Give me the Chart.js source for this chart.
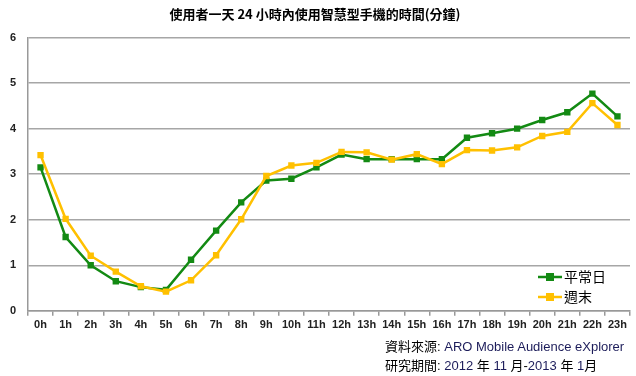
<!DOCTYPE html>
<html>
<head>
<meta charset="utf-8">
<script src="https://cdn.jsdelivr.net/npm/chart.js@4.4.1/dist/chart.umd.min.js"></script>
<style>
html,body{margin:0;padding:0;background:#fff;}
#wrap{position:relative;width:636px;height:376px;}
canvas{position:absolute;left:0;top:0;}
.foot{position:absolute;left:385px;font-family:"Liberation Sans","Noto Sans CJK TC",sans-serif;font-size:13px;color:#000;white-space:nowrap;}
.foot .en{color:#1c1c5a;}
</style>
</head>
<body>
<div id="wrap">
<canvas id="c" width="636" height="376"></canvas>
<div class="foot" style="top:336px;">資料來源: <span class="en">ARO Mobile Audience eXplorer</span></div>
<div class="foot" style="top:355px;">研究期間: <span class="en">2012</span> 年 <span class="en">11</span> 月-<span class="en">2013</span> 年 <span class="en">1</span>月</div>
</div>
<script>
const categories = ["0h","1h","2h","3h","4h","5h","6h","7h","8h","9h","10h","11h","12h","13h","14h","15h","16h","17h","18h","19h","20h","21h","22h","23h"];
const weekday = [3.15,1.62,1.00,0.65,0.52,0.46,1.12,1.76,2.38,2.86,2.90,3.15,3.43,3.33,3.33,3.33,3.33,3.80,3.90,4.00,4.19,4.36,4.77,4.27];
const weekend = [3.42,2.02,1.21,0.86,0.54,0.42,0.67,1.22,2.01,2.96,3.19,3.25,3.49,3.48,3.32,3.44,3.22,3.53,3.52,3.59,3.84,3.93,4.56,4.08];
const seriesNames = ["平常日","週末"];
const titleText = "使用者一天 24 小時內使用智慧型手機的時間(分鐘)";

const green = "#138a13";
const yellow = "#ffc000";

const legendPlugin = {
  id: "insideLegend",
  afterDraw(chart) {
    const ctx = chart.ctx;
    const x0 = 538, ys = [277, 297];
    ctx.save();
    chart.data.datasets.forEach((ds, i) => {
      const y = ys[i];
      ctx.strokeStyle = ds.borderColor;
      ctx.lineWidth = 2.5;
      ctx.beginPath(); ctx.moveTo(x0, y); ctx.lineTo(x0 + 24, y); ctx.stroke();
      ctx.fillStyle = ds.backgroundColor;
      ctx.fillRect(x0 + 8, y - 4, 8, 8);
      ctx.fillStyle = "#000";
      ctx.font = "14px 'Noto Sans CJK TC'";
      ctx.textBaseline = "middle";
      ctx.fillText(ds.label, x0 + 26, y);
    });
    ctx.restore();
  }
};

new Chart(document.getElementById("c"), {
  type: "line",
  data: {
    labels: categories,
    datasets: [
      { label: seriesNames[0], data: weekday, borderColor: green, backgroundColor: green, borderWidth: 2.5, pointStyle: "rect", pointRadius: 4.5, pointBorderWidth: 0, tension: 0, order: 2 },
      { label: seriesNames[1], data: weekend, borderColor: yellow, backgroundColor: yellow, borderWidth: 2.5, pointStyle: "rect", pointRadius: 4.5, pointBorderWidth: 0, tension: 0, order: 1 }
    ]
  },
  options: {
    responsive: false,
    animation: false,
    devicePixelRatio: 1,
    layout: { padding: { left: 0, right: 6, top: 0, bottom: 41 } },
    plugins: {
      legend: { display: false },
      tooltip: { enabled: false },
      title: {
        display: true, text: titleText, color: "#000",
        font: { family: "'Noto Sans CJK TC'", size: 13, weight: "bold" },
        padding: { top: 6, bottom: 16 }
      }
    },
    scales: {
      x: {
        offset: true,
        grid: { display: true, drawOnChartArea: false, drawTicks: true, tickLength: 5, offset: true, color: "#999", lineWidth: 1.5 },
        border: { display: true, color: "#999", width: 1.5 },
        ticks: { color: "#222", font: { family: "'Liberation Sans'", size: 11, weight: "bold" }, maxRotation: 0, autoSkip: false, padding: 3 }
      },
      y: {
        min: 0, max: 6,
        afterFit(scale) { scale.width = 28; },
        grid: { color: "#a6a6a6", lineWidth: 1.5, drawTicks: false },
        border: { display: true, color: "#999", width: 1.5 },
        ticks: { stepSize: 1, color: "#222", font: { family: "'Liberation Sans'", size: 11, weight: "bold" }, padding: 12 }
      }
    }
  },
  plugins: [legendPlugin]
});
</script>
</body>
</html>
